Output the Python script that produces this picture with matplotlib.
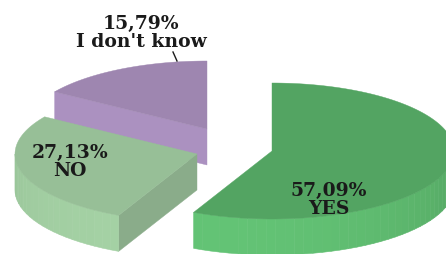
import numpy as np
import matplotlib.pyplot as plt
from matplotlib.patches import Polygon

labels = ['YES', 'NO', "I don't know"]
values = [57.09, 27.13, 15.79]
pct_text = ['57,09%', '27,13%', '15,79%']

# стили: верх, радиальная грань, стенка (светлая/тёмная)
top_col = ['#53a462', '#97bf97', '#9e86b0']
face_col = ['#4f9c5d', '#8aac8a', '#ab91c0']
wall_light = ['#63c375', '#a4d1a4', '#b49bc8']
wall_dark = ['#4d985a', '#86ae86', '#8f789f']

# сдвиги кусков (в пикселях) относительно общего центра
base = (240, 148)
shift = [(32, 4), (-43, 7), (-33, -18)]
label_pos = [(329, 200), (70, 162), (141, 33)]

rx, ry, depth = 182, 68, 36


def rim(cx, cy, t):
    t = np.radians(t)
    return cx + rx * np.sin(t), cy - ry * np.cos(t)


def mix(c1, c2, f):
    a = np.array(plt.matplotlib.colors.to_rgb(c1))
    b = np.array(plt.matplotlib.colors.to_rgb(c2))
    return tuple(b + (a - b) * f)


def draw_slice(ax, cx, cy, a0, a1, i):
    # радиальные грани (только те, что смотрят на зрителя)
    for a, visible in ((a0, np.sin(np.radians(a0)) < -1e-6),
                       (a1, np.sin(np.radians(a1)) > 1e-6)):
        if visible:
            x, y = rim(cx, cy, a)
            pts = [(cx, cy), (x, y), (x, y + depth), (cx, cy + depth)]
            ax.add_patch(Polygon(pts, closed=True, fc=face_col[i], ec=face_col[i], lw=0.3))
    # внешняя стенка
    w0, w1 = max(a0, 90), min(a1, 270)
    if w1 > w0:
        ts = np.linspace(w0, w1, int(w1 - w0) // 3 + 2)
        for k in range(len(ts) - 1):
            x0, y0 = rim(cx, cy, ts[k])
            x1, y1 = rim(cx, cy, ts[k + 1])
            f = (1 + np.cos(np.radians((ts[k] + ts[k + 1]) / 2 - 200))) / 2
            c = mix(wall_light[i], wall_dark[i], f)
            pts = [(x0, y0), (x1, y1), (x1, y1 + depth), (x0, y0 + depth)]
            ax.add_patch(Polygon(pts, closed=True, fc=c, ec=c, lw=0.4))
    # верх
    ts = np.linspace(a0, a1, 200)
    xs, ys = rim(cx, cy, ts)
    pts = [(cx, cy)] + list(zip(xs, ys))
    ax.add_patch(Polygon(pts, closed=True, fc=top_col[i], ec=top_col[i], lw=0.3))


fig = plt.figure(figsize=(4.46, 2.55), dpi=100)
ax = fig.add_axes([0, 0, 1, 1])
ax.set_xlim(0, 446)
ax.set_ylim(255, 0)
ax.axis('off')

total = sum(values)
edges = np.concatenate([[0], np.cumsum(values) / total * 360])

# рисуем сзади вперёд
for i in [2, 1, 0]:
    cx = base[0] + shift[i][0]
    cy = base[1] + shift[i][1]
    draw_slice(ax, cx, cy, edges[i], edges[i + 1], i)

for i in range(len(labels)):
    ax.text(label_pos[i][0], label_pos[i][1], pct_text[i] + '\n' + labels[i],
            ha='center', va='center', fontfamily='DejaVu Serif',
            fontweight='bold', fontsize=13.5, color='#1a1a1a', linespacing=1.0)

ax.plot([173, 177], [53, 62], color='#1a1a1a', lw=1)

fig.savefig('out.png', dpi=100)
